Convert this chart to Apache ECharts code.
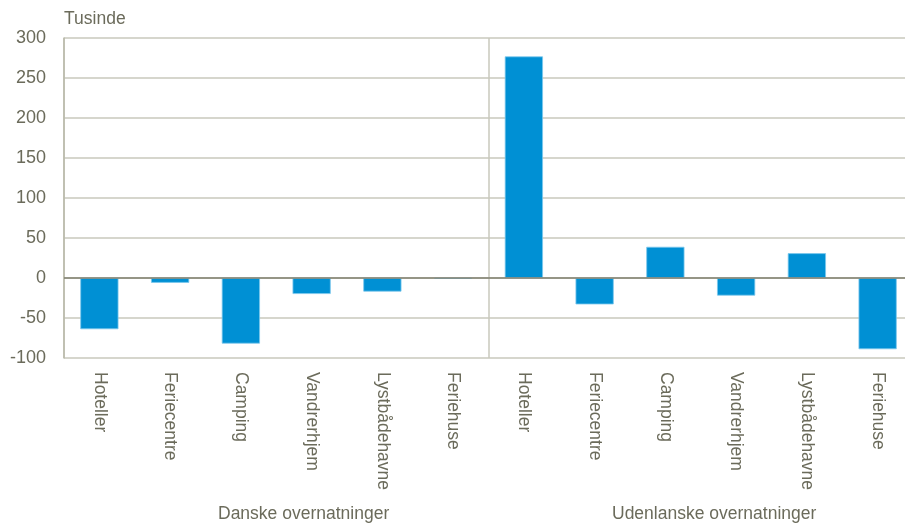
<!DOCTYPE html>
<html><head><meta charset="utf-8">
<script src="https://cdn.jsdelivr.net/npm/echarts@6/dist/echarts.min.js"></script>
<style>html,body{margin:0;padding:0;background:#fff}#c{width:905px;height:526px}</style>
</head><body><div id="c"></div>
<script>
const categories = ['Hoteller','Feriecentre','Camping','Vandrerhjem','Lystbådehavne','Feriehuse',
                    'Hoteller','Feriecentre','Camping','Vandrerhjem','Lystbådehavne','Feriehuse'];
const values = [-64, -6, -82, -20, -17, -1, 277, -33, 39, -22, 31, -89];
const groupLabels = ['Danske overnatninger', 'Udenlanske overnatninger'];
const yTicks = {min: -100, max: 300, interval: 50};
const unitLabel = 'Tusinde';

const txt = '#6b6b5b';
const font = '"Liberation Sans", Arial, sans-serif';
const grid = '#c9c9bd';
const chart = echarts.init(document.getElementById('c'), null, {renderer: 'canvas'});
chart.setOption({
  animation: false,
  grid: {left: 64, top: 38, width: 849, height: 320, containLabel: false, outerBoundsMode: 'none'},
  xAxis: [{
    type: 'category', data: categories, boundaryGap: true,
    axisLine: {show: false, onZero: false},
    axisTick: {show: false},
    splitLine: {show: false},
    axisLabel: {rotate: -90, margin: 14, color: txt, fontSize: 17.5, fontFamily: font, interval: 0,
      align: 'left', verticalAlign: 'middle'}
  }, {
    type: 'value', min: 0, max: categories.length, interval: categories.length / 2,
    position: 'top', show: true,
    axisLine: {show: false}, axisTick: {show: false}, axisLabel: {show: false},
    splitLine: {show: true, lineStyle: {color: grid, width: 1.5}}
  }],
  yAxis: {
    type: 'value', min: yTicks.min, max: yTicks.max, interval: yTicks.interval,
    name: unitLabel, nameLocation: 'end', nameGap: 10,
    nameTextStyle: {color: txt, fontSize: 17.5, fontFamily: font, align: 'left'},
    axisLine: {show: true, lineStyle: {color: '#b8b8aa', width: 1.5}},
    axisTick: {show: false},
    splitLine: {show: true, lineStyle: {color: grid, width: 1.5}},
    axisLabel: {margin: 18, color: txt, fontSize: 18, fontFamily: font}
  },
  series: [{
    type: 'bar', data: values, barWidth: '54%', xAxisIndex: 0,
    itemStyle: {color: '#0090d4', borderColor: '#7cc8ec', borderWidth: 0.8},
    markLine: {silent: true, symbol: 'none', label: {show: false},
      lineStyle: {color: '#7f7f6f', width: 1.5, type: 'solid'},
      data: [{yAxis: 0}]}
  }],
  graphic: [
    {type: 'text', left: 218, top: 505, style: {text: groupLabels[0], fill: txt, fontSize: 17.5, fontFamily: font}},
    {type: 'text', left: 612, top: 505, style: {text: groupLabels[1], fill: txt, fontSize: 17.5, fontFamily: font}}
  ]
});
</script></body></html>
